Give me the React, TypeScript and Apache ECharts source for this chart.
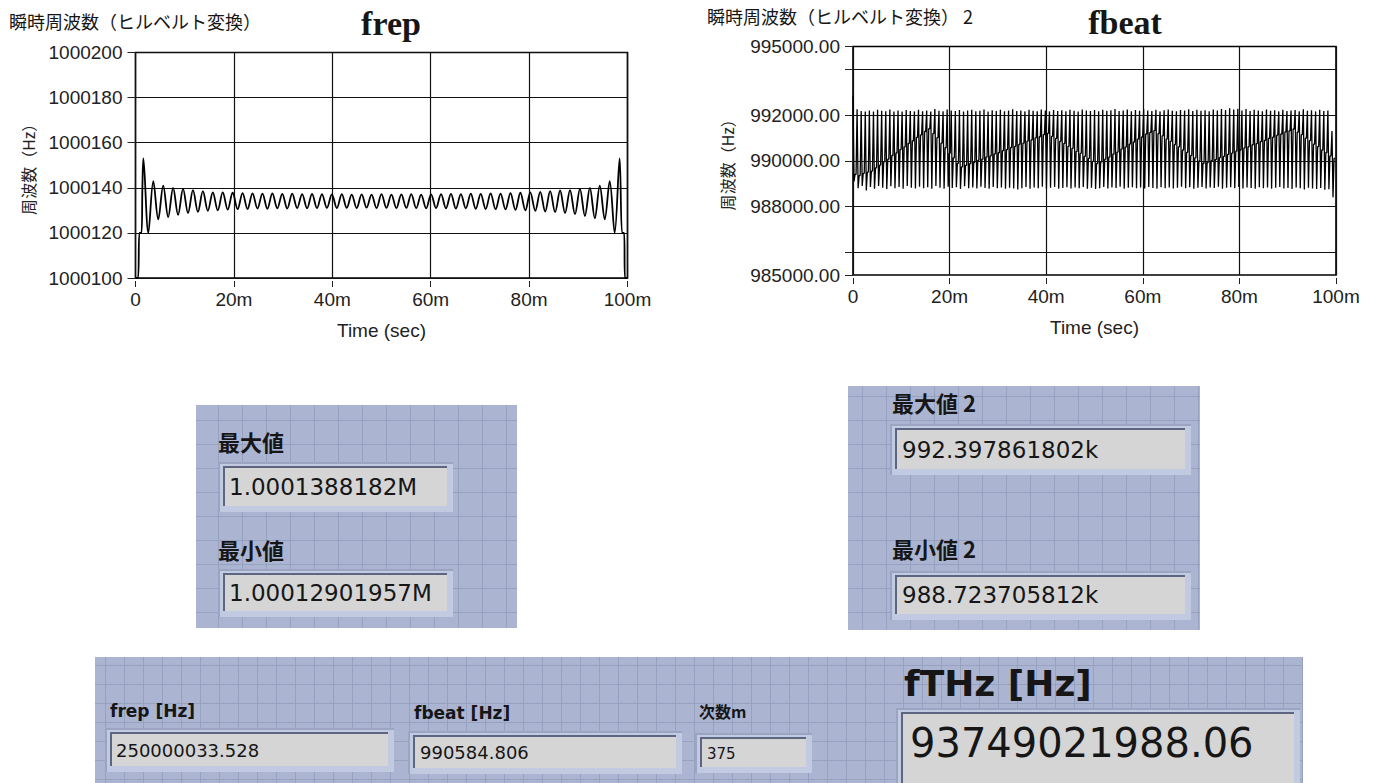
import React, { useEffect, useRef } from "react";
import * as echarts from "echarts";

const FONT = "'Liberation Sans', 'Noto Sans CJK JP', sans-serif";
const JP = "'Noto Sans CJK JP', 'Liberation Sans', sans-serif";
const PF = "'DejaVu Sans', 'Noto Sans CJK JP', sans-serif";

// ---------- frep chart ----------
const frepTitle = "瞬時周波数（ヒルベルト変換）";
const frepYTicks = [1000100, 1000120, 1000140, 1000160, 1000180, 1000200];
const xTicks = [0, 20, 40, 60, 80, 100]; // ms
// lead-in and tail samples: [time ms, value]
const frepLead = [[0, 1000100], [0.5, 1000100], [0.8, 1000120], [1.2, 1000120], [1.4, 1000140]];
const frepTail = [[98.9, 1000120], [99.3, 1000120], [99.5, 1000100], [100, 1000100]];
const FREP_T0 = 1.6;
const FREP_DT = 1.0083;
const frepPeaks = [
  1000153, 1000143, 1000141, 1000140, 1000139.5, 1000139, 1000138.5, 1000138, 1000138, 1000137.8,
  1000137.6, 1000137.5, 1000137.4, 1000137.5, 1000137.3, 1000137.4, 1000137.2, 1000137.3, 1000137.2, 1000137.1,
  1000137.2, 1000137.0, 1000137.1, 1000137.0, 1000137.2, 1000137.0, 1000137.1, 1000137.2, 1000137.0, 1000137.1,
  1000137.2, 1000137.3, 1000137.2, 1000137.4, 1000137.3, 1000137.5, 1000137.4, 1000137.6, 1000137.8, 1000138,
  1000138.2, 1000138.5, 1000138.8, 1000139, 1000139.5, 1000140, 1000141, 1000143, 1000153,
];
const frepTroughs = [
  1000120, 1000126, 1000127, 1000128, 1000128.8, 1000129.3, 1000129.8, 1000130, 1000130.3, 1000130.5,
  1000130.6, 1000130.8, 1000130.7, 1000130.9, 1000130.8, 1000131, 1000130.9, 1000131, 1000131.1, 1000131,
  1000131.1, 1000131, 1000131.2, 1000131, 1000131.1, 1000131, 1000131.1, 1000131, 1000130.9, 1000131,
  1000130.9, 1000130.8, 1000130.9, 1000130.7, 1000130.6, 1000130.5, 1000130.4, 1000130.2, 1000130, 1000129.8,
  1000129.5, 1000129.2, 1000128.8, 1000128.3, 1000127.5, 1000126.5, 1000126, 1000120,
];

// ---------- fbeat chart ----------
const fbeatTitle = "瞬時周波数（ヒルベルト変換） 2";
const fbeatLabelValues = [985000, 988000, 990000, 992000, 995000];
const fbeatTickValues = [985000, 986000, 988000, 990000, 992000, 994000, 995000];
const fbeatGridValues = [986000, 988000, 990000, 992000, 994000];
const FBEAT_T0 = 0;
const FBEAT_DT = 0.2119; // ms per sample, 4 samples per cycle
const fbeatHigh = [
  992850, 992250, 992180, 992150, 992200, 992160, 992230, 992190, 992170, 992240, 992160, 992200, 992150, 992220, 992180, 992160, 992230, 992170, 992200, 992150,
  992260, 992190, 992170, 992240, 992200, 992180, 992220, 992160, 992200, 992230, 992170, 992190, 992240, 992160, 992210, 992180, 992230, 992170, 992200, 992250,
  992180, 992200, 992160, 992230, 992190, 992170, 992240, 992200, 992160, 992220, 992180, 992210, 992170, 992230, 992190, 992160, 992240, 992200, 992180, 992220,
  992170, 992230, 992190, 992210, 992260, 992180, 992200, 992240, 992170, 992220, 992190, 992250, 992200, 992180, 992230, 992160, 992210, 992240, 992190, 992170,
  992220, 992200, 992250, 992180, 992230, 992190, 992210, 992170, 992240, 992200, 992260, 992220, 992300, 992240, 992280, 992200, 992260, 992180, 992230, 992200,
  992170, 992240, 992190, 992210, 992160, 992230, 992180, 992200, 992220, 992170, 992250, 992190, 992210, 992160, 992230, 992180, 992200, 991300,
];
const fbeatLow = [
  989100, 988800, 988900, 988700, 988850, 988780, 988900, 988820, 988760, 988880, 988800, 988850, 988770, 988900, 988820, 988790, 988860, 988800, 988840, 988770,
  988900, 988820, 988780, 988860, 988810, 988840, 988770, 988880, 988800, 988830, 988790, 988860, 988810, 988780, 988850, 988800, 988830, 988770, 988820, 988790,
  988740, 988800, 988850, 988780, 988830, 988800, 988860, 988790, 988820, 988850, 988780, 988810, 988840, 988790, 988830, 988800, 988850, 988780, 988820, 988760,
  988800, 988850, 988790, 988830, 988810, 988860, 988780, 988820, 988840, 988800, 988830, 988790, 988850, 988810, 988780, 988840, 988800, 988830, 988790, 988820,
  988860, 988800, 988840, 988780, 988820, 988850, 988790, 988830, 988810, 988860, 988780, 988820, 988840, 988800, 988850, 988790, 988830, 988810, 988770, 988840,
  988800, 988830, 988780, 988820, 988850, 988790, 988810, 988760, 988830, 988800, 988740, 988820, 988790, 988760, 988810, 988730, 988750, 988400,
];
const fbeatMid = [
  989400, 989350, 989450, 989500,
  989550, 989690, 989810, 989960, 990070, 990230, 990340, 990490, 990610, 990760, 990870, 991020, 991130, 991280, 991400,
  991190, 991010, 990770, 990570, 990330, 990130, 989890, 989730,
  989800, 989880, 989930, 990020, 990070, 990160, 990210, 990300, 990350, 990440, 990490, 990580, 990630, 990720, 990770, 990860, 990910, 991000, 991050, 991140, 991200,
  991070, 990980, 990850, 990760, 990630, 990540, 990410, 990320, 990190, 990100, 989970, 989880,
  989950, 990070, 990160, 990290, 990380, 990510, 990600, 990730, 990820, 990950, 991040, 991170, 991240, 991320,
  991190, 991090, 990950, 990850, 990710, 990610, 990470, 990370, 990230, 990130, 989990, 989890,
  989920, 990000, 990050, 990140, 990190, 990280, 990330, 990420, 990470, 990560, 990610, 990700, 990750, 990840, 990890, 990980, 991030, 991120, 991170, 991260, 991310, 991390,
  991250, 991140, 990990, 990880, 990730, 990620, 990470, 990360, 990210, 990100,
];

// ---------- indicator values ----------
const frepMaxLabel = "最大値";
const frepMaxValue = "1.0001388182M";
const frepMinLabel = "最小値";
const frepMinValue = "1.00012901957M";
const fbeatMaxLabel = "最大値 2";
const fbeatMaxValue = "992.397861802k";
const fbeatMinLabel = "最小値 2";
const fbeatMinValue = "988.723705812k";
const frepHzLabel = "frep [Hz]";
const frepHzValue = "250000033.528";
const fbeatHzLabel = "fbeat [Hz]";
const fbeatHzValue = "990584.806";
const orderLabel = "次数m";
const orderValue = "375";
const fthzLabel = "fTHz [Hz]";
const fthzValue = "93749021988.06";

// ---------- build series data ----------
function buildFrep() {
  const out: number[][] = frepLead.map((p) => [p[0], p[1]]);
  const n = frepPeaks.length + frepTroughs.length;
  for (let i = 0; i < n; i++) {
    const v = i % 2 === 0 ? frepPeaks[i / 2] : frepTroughs[(i - 1) / 2];
    out.push([FREP_T0 + i * FREP_DT, v]);
  }
  frepTail.forEach((p) => out.push([p[0], p[1]]));
  return out;
}
function buildFbeat() {
  const out: number[][] = [];
  for (let k = 0; k < fbeatHigh.length; k++) {
    const vals = [fbeatHigh[k], fbeatLow[k], fbeatMid[k], fbeatMid[k]];
    vals.forEach((v, j) => out.push([FBEAT_T0 + (4 * k + j) * FBEAT_DT, v]));
  }
  return out;
}

// ---------- panel drawing helpers ----------
const PANEL_BG = "#abb5d2";
const PANEL_LINE = "#97a2c1";
function panel(x: number, y: number, w: number, h: number, step: number, ox: number, oy: number) {
  const els: any[] = [
    { type: "rect", silent: true, shape: { x, y, width: w, height: h }, style: { fill: PANEL_BG } },
  ];
  for (let gx = x + ox; gx < x + w; gx += step) {
    els.push({ type: "line", silent: true, shape: { x1: gx + 0.5, y1: y, x2: gx + 0.5, y2: y + h }, style: { stroke: PANEL_LINE, lineWidth: 1 } });
  }
  for (let gy = y + oy; gy < y + h; gy += step) {
    els.push({ type: "line", silent: true, shape: { x1: x, y1: gy + 0.5, x2: x + w, y2: gy + 0.5 }, style: { stroke: PANEL_LINE, lineWidth: 1 } });
  }
  return els;
}
function box(x: number, y: number, w: number, h: number) {
  return [
    { type: "rect", silent: true, shape: { x: x - 7, y: y - 6, width: w + 13, height: h + 12 }, style: { fill: "#c2cae1" } },
    { type: "rect", silent: true, shape: { x: x - 7, y: y - 6, width: w + 13, height: 2 }, style: { fill: "#9ba4c0" } },
    { type: "rect", silent: true, shape: { x: x - 7, y: y - 6, width: 2, height: h + 12 }, style: { fill: "#9ba4c0" } },
    { type: "rect", silent: true, shape: { x: x - 2, y: y - 2, width: w + 2, height: h + 2 }, style: { fill: "#5d6580" } },
    { type: "rect", silent: true, shape: { x, y, width: w, height: h }, style: { fill: "#d5d5d5" } },
  ];
}
function txt(text: string, x: number, y: number, size: number, family: string, weight: string = "normal", align: string = "left") {
  return {
    type: "text",
    silent: true,
    style: { text, x, y, fontSize: size, fontFamily: family, fontWeight: weight, fill: "#161616", align, verticalAlign: "middle" },
  };
}

export default function App() {
  const ref = useRef<HTMLDivElement>(null);
  useEffect(() => {
    const chart = echarts.init(ref.current!, null, { renderer: "svg" });
    const axisText = { color: "#222", fontSize: 19, fontFamily: FONT };
    const xAxisCommon = (gridIndex: number) => ({
      type: "value",
      gridIndex,
      min: xTicks[0],
      max: xTicks[xTicks.length - 1],
      interval: 20,
      offset: 3,
      axisLine: { show: false },
      axisTick: { show: true, length: 6, lineStyle: { color: "#222", width: 1 } },
      axisLabel: { ...axisText, margin: 9, formatter: (v: number) => (v === 0 ? "0" : v + "m") },
      splitLine: { show: true, lineStyle: { color: "#111", width: 1.2 } },
      name: "Time (sec)",
      nameLocation: "middle",
      nameGap: 40,
      nameTextStyle: { color: "#222", fontSize: 19, fontFamily: FONT },
    });

    const graphics: any[] = [
      txt(frepTitle, 9, 21, 18, JP),
      txt(fbeatTitle, 707, 16, 18, JP),
      txt("frep", 391, 23, 34, "'Liberation Serif', serif", "bold", "center"),
      txt("fbeat", 1125, 22, 34, "'Liberation Serif', serif", "bold", "center"),
      // panel 1
      ...panel(196, 405, 321, 223, 24, 22, 15),
      txt(frepMaxLabel, 218, 441, 22, JP, "bold"),
      ...box(225, 468, 222, 38),
      txt(frepMaxValue, 229, 487, 23, PF),
      txt(frepMinLabel, 218, 549, 22, JP, "bold"),
      ...box(225, 575, 222, 36),
      txt(frepMinValue, 229, 593, 23, PF),
      // panel 2
      ...panel(848, 386, 352, 244, 24, 14, 10),
      txt(fbeatMaxLabel, 892, 402, 22, JP, "bold"),
      ...box(897, 430, 288, 39),
      txt(fbeatMaxValue, 902, 450, 23, PF),
      txt(fbeatMinLabel, 892, 548, 22, JP, "bold"),
      ...box(897, 577, 288, 37),
      txt(fbeatMinValue, 902, 595, 23, PF),
      // panel 3
      ...panel(95, 657, 1208, 126, 19, 10, 8),
      txt(frepHzLabel, 110, 711, 17, PF, "bold"),
      ...box(112, 734, 276, 32),
      txt(frepHzValue, 116, 750, 18, PF),
      txt(fbeatHzLabel, 414, 713, 17, PF, "bold"),
      ...box(415, 737, 261, 31),
      txt(fbeatHzValue, 420, 752, 18, PF),
      txt(orderLabel, 699, 711, 16, JP, "bold"),
      ...box(702, 739, 104, 28),
      txt(orderValue, 707, 754, 15, PF),
      txt(fthzLabel, 904, 683, 36, PF, "bold"),
      ...box(903, 714, 391, 69),
      txt(fthzValue, 910, 743, 40, PF),
    ];

    chart.setOption({
      animation: false,
      backgroundColor: "#ffffff",
      textStyle: { fontFamily: FONT },
      grid: [
        { left: 135.5, top: 52.5, width: 492, height: 225.5, show: true, borderColor: "#000", borderWidth: 1.6, backgroundColor: "#fff", containLabel: false },
        { left: 853, top: 46.5, width: 483, height: 228.5, show: true, borderColor: "#000", borderWidth: 1.6, backgroundColor: "#fff", containLabel: false },
      ],
      xAxis: [xAxisCommon(0), xAxisCommon(1)],
      yAxis: [
        {
          type: "value",
          gridIndex: 0,
          min: frepYTicks[0],
          max: frepYTicks[frepYTicks.length - 1],
          interval: 20,
          axisLine: { show: false },
          axisTick: { show: true, length: 8, lineStyle: { color: "#222" } },
          axisLabel: { ...axisText, margin: 13, formatter: (v: number) => String(v) },
          splitLine: { show: true, lineStyle: { color: "#111", width: 1.2 } },
          name: "周波数（Hz）",
          nameLocation: "middle",
          nameGap: 100,
          nameTextStyle: { color: "#222", fontSize: 16, fontFamily: JP },
        },
        {
          type: "value",
          gridIndex: 1,
          min: 985000,
          max: 995000,
          interval: 1000,
          axisLine: { show: false },
          axisTick: { show: true, length: 8, customValues: fbeatTickValues, lineStyle: { color: "#222" } },
          axisLabel: { ...axisText, margin: 13, customValues: fbeatLabelValues, formatter: (v: number) => v.toFixed(2) },
          splitLine: { show: false },
          name: "周波数（Hz）",
          nameLocation: "middle",
          nameGap: 118,
          nameTextStyle: { color: "#222", fontSize: 16, fontFamily: JP },
        },
      ],
      series: [
        {
          type: "line",
          xAxisIndex: 0,
          yAxisIndex: 0,
          data: buildFrep(),
          showSymbol: false,
          symbol: "none",
          smooth: 0.35,
          clip: true,
          lineStyle: { color: "#000", width: 1.8 },
        },
        {
          type: "line",
          xAxisIndex: 1,
          yAxisIndex: 1,
          data: buildFbeat(),
          showSymbol: false,
          symbol: "none",
          clip: true,
          lineStyle: { color: "#000", width: 1.3 },
          markLine: {
            silent: true,
            symbol: "none",
            label: { show: false },
            lineStyle: { color: "#111", width: 1.2, type: "solid" },
            data: fbeatGridValues.map((v) => ({ yAxis: v })),
          },
        },
      ],
      graphic: graphics,
    });
    return () => chart.dispose();
  }, []);
  return (
    <div
      ref={ref}
      style={{ position: "fixed", left: 0, top: 0, width: 1377, height: 783, background: "#fff" }}
    />
  );
}
